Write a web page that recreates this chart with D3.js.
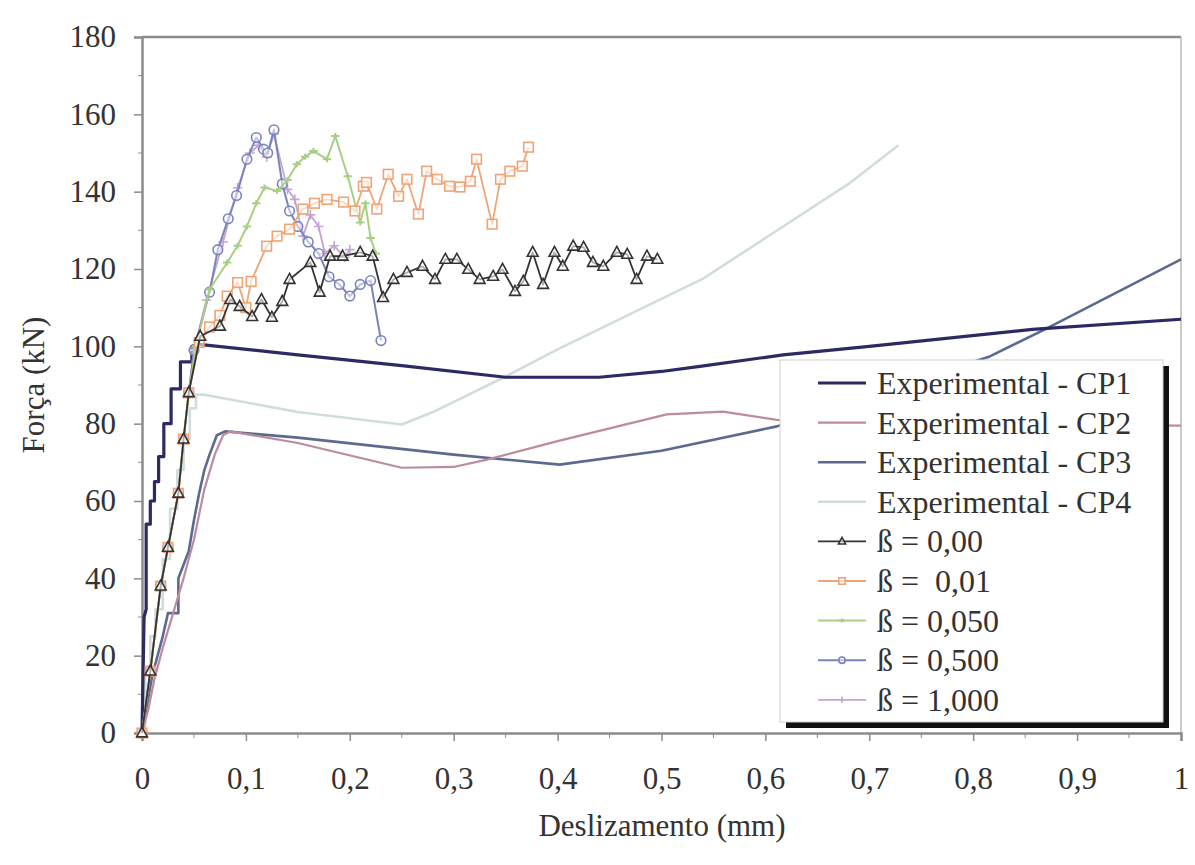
<!DOCTYPE html>
<html>
<head>
<meta charset="utf-8">
<script src="https://cdn.jsdelivr.net/npm/d3@7"></script>
<style>
  body { margin: 0; background: #fff; }
  svg text { font-family: 'Liberation Serif', 'DejaVu Serif', serif; }
</style>
</head>
<body>
<script>
// experimental curves, [slip (mm), force (kN)]
const cp1 = [[0,0],[0.002,30],[0.004,32],[0.004,54],[0.008,54],[0.008,60],[0.012,60],[0.012,65],[0.016,65],[0.016,71.5],[0.021,71.5],[0.021,80],[0.028,80],[0.028,89],[0.037,89],[0.037,96],[0.048,96],[0.048,100],[0.055,100.5],[0.15,97.8],[0.25,95],[0.35,92],[0.44,92],[0.5,93.5],[0.537,94.8],[0.617,97.8],[0.7,100],[0.857,104.4],[1.0,107]];
const cp2 = [[0,0],[0.006,6],[0.012,14],[0.02,22],[0.03,31],[0.04,40],[0.05,50],[0.06,63],[0.07,72],[0.078,77],[0.085,78],[0.15,75],[0.25,68.6],[0.3,68.8],[0.332,70.7],[0.4,75.5],[0.505,82.4],[0.559,83.1],[0.611,81],[0.7,80],[1.0,79.5]];
const cp3 = [[0,0],[0.01,15],[0.02,25],[0.025,31],[0.035,31],[0.035,40],[0.045,47],[0.05,55],[0.055,62],[0.06,68],[0.065,72],[0.072,77],[0.08,78],[0.15,76.4],[0.3,72],[0.402,69.4],[0.5,73],[0.611,79.3],[0.7,87.5],[0.816,97.4],[0.869,104.4],[1.0,122.5]];
const cp4 = [[0,0],[0.003,0],[0.003,15],[0.008,15],[0.008,25],[0.013,25],[0.013,32],[0.02,32],[0.02,45],[0.027,45],[0.027,58],[0.034,58],[0.034,68],[0.04,68],[0.04,76],[0.046,76],[0.046,84],[0.052,84],[0.052,87.5],[0.06,87.5],[0.15,83],[0.25,79.8],[0.28,83],[0.35,92.2],[0.4,99.2],[0.54,117.5],[0.62,131.5],[0.68,142],[0.728,152]];

// numerical curves for each beta
const beta000 = [[0,0],[0.008,16],[0.018,38],[0.025,48],[0.035,62],[0.04,76],[0.045,88],[0.056,102.6],[0.075,105.2],[0.085,112.1],[0.094,110.3],[0.106,107.7],[0.115,112.1],[0.125,107.5],[0.135,111.6],[0.142,117.3],[0.162,121.7],[0.171,114],[0.181,123.3],[0.193,123.3],[0.21,124.3],[0.222,123.3],[0.232,112.6],[0.242,117.3],[0.255,119.1],[0.27,120.7],[0.282,117.3],[0.292,122.5],[0.303,122.5],[0.314,119.9],[0.325,117.3],[0.338,118.1],[0.347,119.9],[0.359,114.2],[0.367,116.8],[0.376,124.3],[0.386,116],[0.397,124.3],[0.405,120.7],[0.415,125.9],[0.425,125.6],[0.434,121.7],[0.444,120.7],[0.457,124.3],[0.467,123.8],[0.476,117.3],[0.486,123.3],[0.496,122.5]];
const beta001 = [[0,0],[0.008,16],[0.018,38],[0.025,48],[0.035,62],[0.04,76],[0.045,88],[0.055,101],[0.065,105],[0.075,108],[0.082,113],[0.092,116.5],[0.1,110],[0.105,116.8],[0.12,125.9],[0.13,128.5],[0.142,130.3],[0.155,135.5],[0.166,137],[0.178,138],[0.194,137.3],[0.205,135],[0.213,141.4],[0.216,142.4],[0.226,135.5],[0.237,144.5],[0.247,138.8],[0.255,143.2],[0.266,134.2],[0.274,145.3],[0.284,143.2],[0.296,141.4],[0.306,141.2],[0.316,142.7],[0.322,148.4],[0.337,131.6],[0.345,143.2],[0.354,145.3],[0.366,146.6],[0.372,151.5]];
const beta005 = [[0,0],[0.008,16],[0.018,38],[0.025,48],[0.035,62],[0.04,76],[0.045,88],[0.052,100],[0.065,114.7],[0.082,121.7],[0.092,126],[0.101,131],[0.11,137],[0.118,141.1],[0.13,140.2],[0.14,143],[0.149,147.1],[0.157,149],[0.165,150.5],[0.178,148.4],[0.186,154.4],[0.198,144],[0.21,132],[0.215,137],[0.22,128],[0.225,124]];
const beta050 = [[0,0],[0.008,16],[0.018,38],[0.025,48],[0.035,62],[0.04,76],[0.045,88],[0.05,99],[0.065,114],[0.073,125],[0.083,133],[0.091,139],[0.101,148.4],[0.11,154],[0.117,151],[0.121,150],[0.127,156],[0.135,142],[0.142,135],[0.15,131],[0.16,127],[0.17,124],[0.18,118],[0.19,116],[0.2,113],[0.21,116],[0.22,117],[0.23,101.5]];
const beta100 = [[0,0],[0.008,16],[0.018,38],[0.025,48],[0.035,62],[0.04,76],[0.045,88],[0.05,99],[0.062,112],[0.078,127],[0.092,141],[0.104,150],[0.112,152],[0.12,149],[0.127,155],[0.14,140.6],[0.147,138],[0.155,128.5],[0.162,134],[0.17,131],[0.176,124],[0.185,126],[0.195,123],[0.2,125]];

const xTicks = [0, 0.1, 0.2, 0.3, 0.4, 0.5, 0.6, 0.7, 0.8, 0.9, 1];
const yTicks = [0, 20, 40, 60, 80, 100, 120, 140, 160, 180];

const seriesNames = ['Experimental - CP1', 'Experimental - CP2', 'Experimental - CP3', 'Experimental - CP4',
  'ß = 0,00', 'ß =  0,01', 'ß = 0,050', 'ß = 0,500', 'ß = 1,000'];
const seriesData = [cp1, cp2, cp3, cp4, beta000, beta001, beta005, beta050, beta100];

const width = 1195;
const height = 865;
const margin = { left: 142, top: 37, right: 14, bottom: 132 };
const serif = "'Liberation Serif', 'DejaVu Serif', serif";

const svg = d3.select('body')
  .append('svg')
  .attr('width', width)
  .attr('height', height);

const x = d3.scaleLinear().domain([0, 1]).range([margin.left, width - margin.right]);
const y = d3.scaleLinear().domain([0, 180]).range([height - margin.bottom, margin.top]);

// style per series
const styles = [
  { color: '#2c2a63', w: 3.2, marker: null },
  { color: '#bd8a9e', w: 2.2, marker: null },
  { color: '#5b6a8e', w: 2.6, marker: null },
  { color: '#cfdedc', w: 2.6, marker: null },
  { color: '#333333', w: 1.8, marker: 'triangle' },
  { color: '#f0a476', w: 1.8, marker: 'square' },
  { color: '#a9cf84', w: 2, marker: 'dash' },
  { color: '#7a84bc', w: 2, marker: 'circle' },
  { color: '#c2a6d2', w: 1.8, marker: 'plus' }
];

// frame and axes
const frameColor = '#8c8c8c';
svg.append('line')
  .attr('x1', x(0)).attr('x2', x(1)).attr('y1', y(180)).attr('y2', y(180))
  .attr('stroke', frameColor).attr('stroke-width', 2.5);
svg.append('line')
  .attr('x1', x(1)).attr('x2', x(1)).attr('y1', y(180)).attr('y2', y(0))
  .attr('stroke', '#b8b8b8').attr('stroke-width', 1.5);

const xAxis = svg.append('g')
  .attr('transform', `translate(0,${y(0)})`)
  .call(d3.axisBottom(x).tickValues(xTicks).tickSize(8).tickPadding(26)
    .tickFormat(d => d3.format('.1~f')(d).replace('.', ',')));
const yAxis = svg.append('g')
  .attr('transform', `translate(${x(0)},0)`)
  .call(d3.axisLeft(y).tickValues(yTicks).tickSize(8).tickPadding(18));

[xAxis, yAxis].forEach(a => {
  a.attr('font-family', serif).attr('font-size', 31);
  a.select('.domain').attr('stroke', frameColor).attr('stroke-width', 2.5);
  a.selectAll('.tick line').attr('stroke', frameColor).attr('stroke-width', 1.5);
  a.selectAll('.tick text').attr('fill', '#333');
});

// minor ticks
svg.append('g').selectAll('line')
  .data(d3.range(10, 180, 20))
  .join('line')
  .attr('x1', x(0) - 4).attr('x2', x(0))
  .attr('y1', d => y(d)).attr('y2', d => y(d))
  .attr('stroke', frameColor);
svg.append('g').selectAll('line')
  .data(d3.range(0.05, 1, 0.1))
  .join('line')
  .attr('x1', d => x(d)).attr('x2', d => x(d))
  .attr('y1', y(0)).attr('y2', y(0) + 5)
  .attr('stroke', frameColor);

// axis titles
svg.append('text')
  .text('Deslizamento (mm)')
  .attr('x', 662).attr('y', 836)
  .attr('text-anchor', 'middle')
  .attr('fill', '#333')
  .attr('font-family', serif)
  .attr('font-size', 31);
svg.append('text')
  .text('Força (kN)')
  .attr('transform', `translate(44,${(y(0) + y(180)) / 2}) rotate(-90)`)
  .attr('text-anchor', 'middle')
  .attr('fill', '#333')
  .attr('font-family', serif)
  .attr('font-size', 31);

const line = d3.line().x(d => x(d[0])).y(d => y(d[1]));

function drawMarker(g, type, color, size) {
  const s = size;
  if (type === 'triangle') {
    g.append('path').attr('d', `M0,${-s} L${s * 0.9},${s * 0.65} L${-s * 0.9},${s * 0.65}Z`)
      .attr('fill', '#fff').attr('fill-opacity', 0.6).attr('stroke', color).attr('stroke-width', 1.6);
  } else if (type === 'square') {
    g.append('rect').attr('x', -s * 0.8).attr('y', -s * 0.8).attr('width', s * 1.6).attr('height', s * 1.6)
      .attr('fill', '#fff').attr('fill-opacity', 0.6).attr('stroke', color).attr('stroke-width', 1.6);
  } else if (type === 'circle') {
    g.append('circle').attr('r', s * 0.8)
      .attr('fill', '#fff').attr('fill-opacity', 0.5).attr('stroke', color).attr('stroke-width', 1.6);
  } else if (type === 'dash') {
    g.append('path').attr('d', `M${-s * 0.7},0 L${s * 0.7},0 M0,${-s * 0.5} L0,${s * 0.5}`)
      .attr('stroke', color).attr('stroke-width', 2);
  } else if (type === 'plus') {
    g.append('path').attr('d', `M${-s * 0.8},0 L${s * 0.8},0 M0,${-s * 0.8} L0,${s * 0.8}`)
      .attr('stroke', color).attr('stroke-width', 1.6);
  }
}

// curves, drawn back to front
const plot = svg.append('g');
const order = [3, 2, 1, 0, 8, 7, 6, 5, 4];
order.forEach(i => {
  const st = styles[i];
  plot.append('path')
    .datum(seriesData[i])
    .attr('d', line)
    .attr('fill', 'none')
    .attr('stroke', st.color)
    .attr('stroke-width', st.w)
    .attr('stroke-linejoin', 'round');
  if (st.marker) {
    plot.append('g').selectAll('g')
      .data(seriesData[i])
      .join('g')
      .attr('transform', d => `translate(${x(d[0])},${y(d[1])})`)
      .each(function () { drawMarker(d3.select(this), st.marker, st.color, 6); });
  }
});

// legend box with shadow
const lg = { x: 780, y: 360, w: 383, h: 362 };
svg.append('rect')
  .attr('x', lg.x + 6).attr('y', lg.y + 6).attr('width', lg.w).attr('height', lg.h)
  .attr('fill', '#111');
svg.append('rect')
  .attr('x', lg.x).attr('y', lg.y).attr('width', lg.w).attr('height', lg.h)
  .attr('fill', '#fff').attr('stroke', '#d0d0d0').attr('stroke-width', 1);

const rows = svg.append('g').selectAll('g')
  .data(seriesNames)
  .join('g')
  .attr('transform', (d, i) => `translate(${lg.x},${383 + i * 39.6})`);

rows.append('line')
  .attr('x1', 38).attr('x2', 86)
  .attr('stroke', (d, i) => styles[i].color)
  .attr('stroke-width', (d, i) => styles[i].w);
rows.each(function (d, i) {
  if (styles[i].marker) {
    const g = d3.select(this).append('g').attr('transform', 'translate(62,0)');
    drawMarker(g, styles[i].marker, styles[i].color, 4);
  }
});
rows.append('text')
  .text(d => d)
  .attr('x', 97)
  .attr('y', 11)
  .attr('fill', '#333')
  .attr('font-family', serif)
  .attr('font-size', 32)
  .style('white-space', 'pre');
</script>
</body>
</html>
